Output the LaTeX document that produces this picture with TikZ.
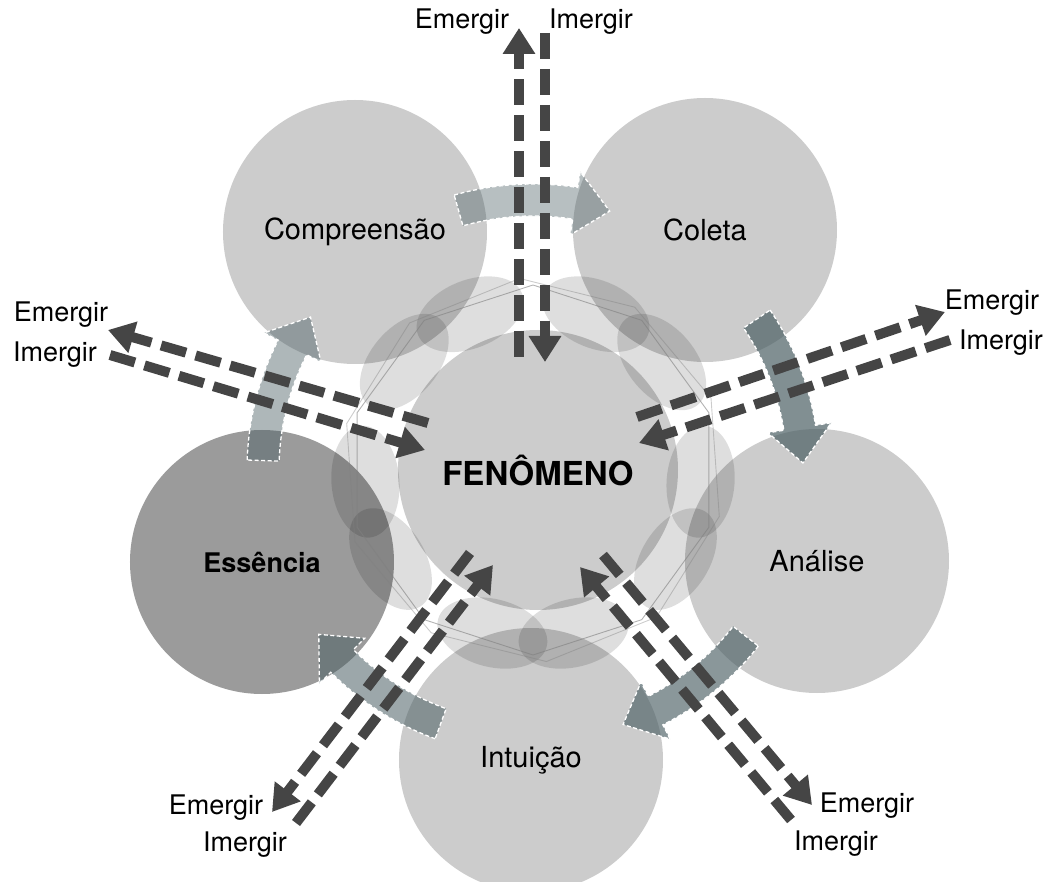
\documentclass[tikz,border=0pt]{standalone}
\usepackage{fontspec}
\setmainfont{TeX Gyre Heros}
\usetikzlibrary{arrows.meta}
\definecolor{cgrey}{HTML}{CCCCCC}
\definecolor{cdark}{HTML}{9B9B9B}
\definecolor{cslate}{HTML}{4B5F64}
\definecolor{cline}{HTML}{454545}

\begin{document}
\begin{tikzpicture}[x=1pt, y=1pt,
  stage/.style={circle, fill=cgrey, minimum size=264pt, inner sep=0pt,
                font=\fontsize{29}{32}\selectfont},
  core/.style={circle, fill=cgrey, minimum size=280pt, inner sep=0pt,
               font=\bfseries\fontsize{33}{36}\selectfont},
  petal/.style={fill=black, fill opacity=0.13},
  frame/.style={draw=gray, line width=0.9pt, draw opacity=0.6},
  cyc/.style={fill=cslate, draw=white, line width=1.3pt, dash pattern=on 4pt off 2.5pt},
  em/.style={draw=cline, line width=10pt, dash pattern=on 26pt off 10pt,
             -{Triangle[length=26pt, width=31pt]}},
  lbl/.style={font=\fontsize{27}{30}\selectfont, inner sep=0pt}]
  \useasboundingbox (-533,-411) rectangle (514,470);

  % the five stages round the phenomenon
  \node[stage] (comp) at (-178,238) {Compreensão};
  \node[stage] (col)  at (172,240)  {Coleta};
  \node[stage] (anl)  at (284,-91)  {Análise};
  \node[stage] (intu) at (-2,-290)  {Intuição};
  \node[stage, fill=cdark, font=\bfseries\fontsize{27}{30}\selectfont]
        (ess) at (-271,-92) {Essência};
  \node[core] (fen) at (5,0) {FENÔMENO};

  % petals and thin frame between the circles
  \foreach \a in {126,54,-18,-90,198}
    \foreach \d in {-14,14}
      \fill[petal, rotate=\a+\d] (168,0) ellipse [x radius=34, y radius=56];
  \draw[frame] (18:185) \foreach \k in {1,...,9} { -- (18+\k*36:185) } -- cycle;
  \draw[frame, draw opacity=0.4] (22:192) \foreach \k in {1,...,9} { -- (22+\k*36:192) } -- cycle;

  % cycle arrows
  \foreach \m/\o in {90/0.4, 18/0.7, -54/0.65, -126/0.55, 162/0.45}{
    \pgfmathsetmacro\s{\m+16}
    \pgfmathsetmacro\h{\m-9}
    \pgfmathsetmacro\e{\m-16.5}
    \filldraw[cyc, fill opacity=\o] (\s:286) arc[start angle=\s, end angle=\h, radius=286]
      -- (\h:302) -- (\e:270) -- (\h:238) -- (\h:254)
      arc[start angle=\h, end angle=\s, radius=254] -- cycle;
  }

  % emergir / imergir
  \foreach \n/\ax/\ay/\bx/\by in {
      te/-14/113/-14/442,  ti/12/437/12/108,
      le/-105/47/-425/140, li/-423/115/-108/20,
      re/104/53/412/158,   ri/417/130/106/27,
      be/-63/-83/-261/-342, bi/-237/-353/-40/-95,
      de/70/-85/279/-335,  di/258/-350/47/-97}{
    \coordinate (\n-a) at (\ax,\ay);
    \coordinate (\n-b) at (\bx,\by);
    \draw[em] (\n-a) -- (\n-b);
  }

  \node[lbl] (te-l) at (-71,448)   {Emergir};
  \node[lbl] (ti-l) at (58,448)    {Imergir};
  \node[lbl] (le-l) at (-472,155)  {Emergir};
  \node[lbl] (li-l) at (-478,115)  {Imergir};
  \node[lbl] (re-l) at (459,167)   {Emergir};
  \node[lbl] (ri-l) at (468,127)   {Imergir};
  \node[lbl] (be-l) at (-317,-338) {Emergir};
  \node[lbl] (bi-l) at (-288,-375) {Imergir};
  \node[lbl] (de-l) at (334,-336)  {Emergir};
  \node[lbl] (di-l) at (303,-374)  {Imergir};
\end{tikzpicture}
\end{document}
